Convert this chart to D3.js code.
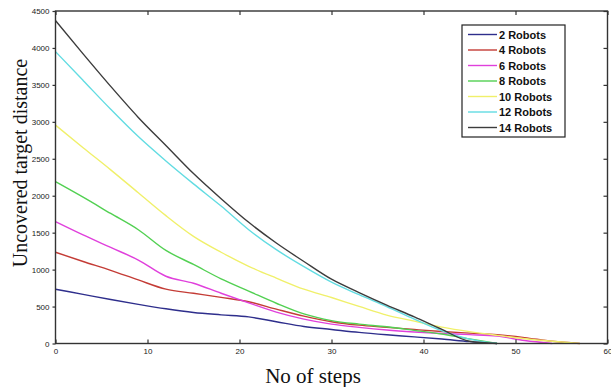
<!DOCTYPE html>
<html>
<head>
<meta charset="UTF-8">
<title>Uncovered target distance</title>
<script src="https://d3js.org/d3.v7.min.js"></script>
<style>
  body { margin: 0; background: #fff; }
  svg { display: block; }
</style>
</head>
<body>
<svg id="chart" width="611" height="387"></svg>
<script>
// steps sampled every 3, null = line already ended
const steps = [0, 3, 6, 9, 12, 15, 18, 21, 24, 27, 30, 33, 36, 39, 42, 45, 48, 51, 54, 57];

const robots2  = [735, 665, 595, 530, 470, 420, 388, 360, 295, 230, 190, 150, 118, 90, 60, 25, 0, null, null, null];
const robots4  = [1235, 1110, 990, 860, 735, 680, 625, 565, 465, 370, 295, 248, 220, 190, 162, 140, 120, 80, 30, 0];
const robots6  = [1650, 1470, 1300, 1130, 910, 815, 680, 550, 425, 330, 262, 218, 182, 156, 136, 120, 100, 40, 0, null];
const robots8  = [2190, 1980, 1760, 1540, 1260, 1070, 875, 710, 545, 400, 310, 262, 226, 178, 128, 62, 0, null, null, null];
const robots10 = [2955, 2650, 2350, 2040, 1730, 1450, 1235, 1045, 885, 735, 622, 502, 385, 302, 222, 160, 110, 65, 30, 0];
const robots12 = [3950, 3560, 3170, 2800, 2470, 2160, 1860, 1540, 1270, 1040, 830, 660, 500, 330, 170, 60, 0, null, null, null];
const robots14 = [4370, 3920, 3480, 3060, 2680, 2300, 1960, 1640, 1360, 1110, 870, 690, 520, 360, 190, 30, 0, null, null, null];

const seriesNames = ["2 Robots", "4 Robots", "6 Robots", "8 Robots", "10 Robots", "12 Robots", "14 Robots"];
const seriesValues = [robots2, robots4, robots6, robots8, robots10, robots12, robots14];
const seriesColors = ["#2e2e8c", "#c43c36", "#e040dc", "#52d052", "#f0f06a", "#62dce2", "#3c3c3c"];

const xTicks = [0, 10, 20, 30, 40, 50, 60];
const yTicks = [0, 500, 1000, 1500, 2000, 2500, 3000, 3500, 4000, 4500];

const svg = d3.select("#chart");
const plotLeft = 55.5, plotRight = 607.5, plotTop = 11, plotBottom = 343.5;

const x = d3.scaleLinear().domain([0, 60]).range([plotLeft, plotRight]);
const y = d3.scaleLinear().domain([0, 4500]).range([plotBottom, plotTop]);

// lines
const line = d3.line()
  .defined(d => d[1] != null)
  .x(d => x(d[0]))
  .y(d => y(d[1]))
  .curve(d3.curveMonotoneX);

seriesValues.forEach((vals, i) => {
  svg.append("path")
    .datum(steps.map((s, j) => [s, vals[j]]))
    .attr("fill", "none")
    .attr("stroke", seriesColors[i])
    .attr("stroke-width", 1.4)
    .attr("d", line);
});

// axes box
const axisColor = "#333";
svg.append("rect")
  .attr("x", plotLeft).attr("y", plotTop)
  .attr("width", plotRight - plotLeft).attr("height", plotBottom - plotTop)
  .attr("fill", "none").attr("stroke", axisColor).attr("stroke-width", 1.4);

const fmt = d3.format("d");
const xAxis = svg.append("g").attr("transform", `translate(0,${plotBottom})`)
  .call(d3.axisBottom(x).tickValues(xTicks).tickFormat(fmt).tickSizeInner(-4).tickSizeOuter(0).tickPadding(5));
const xTop = svg.append("g").attr("transform", `translate(0,${plotTop})`)
  .call(d3.axisTop(x).tickValues(xTicks).tickSizeInner(-4).tickSizeOuter(0).tickFormat(""));
const yAxis = svg.append("g").attr("transform", `translate(${plotLeft},0)`)
  .call(d3.axisLeft(y).tickValues(yTicks).tickFormat(fmt).tickSizeInner(3).tickSizeOuter(0).tickPadding(3));
const yRight = svg.append("g").attr("transform", `translate(${plotRight},0)`)
  .call(d3.axisRight(y).tickValues(yTicks).tickSizeInner(-4).tickSizeOuter(0).tickFormat(""));

[xAxis, xTop, yAxis, yRight].forEach(a => {
  a.select(".domain").remove();
  a.selectAll(".tick line").attr("stroke", axisColor).attr("stroke-width", 1.2);
  a.selectAll(".tick text")
    .attr("font-family", "Arial, 'Liberation Sans', sans-serif")
    .attr("font-size", "8px")
    .attr("fill", "#222");
});

// axis titles
svg.append("text")
  .attr("x", 313).attr("y", 383)
  .attr("text-anchor", "middle")
  .attr("font-family", "'Times New Roman', 'Liberation Serif', serif")
  .attr("font-size", "21px")
  .attr("fill", "#111")
  .text("No of steps");

svg.append("text")
  .attr("transform", "translate(27,163) rotate(-90)")
  .attr("text-anchor", "middle")
  .attr("font-family", "'Times New Roman', 'Liberation Serif', serif")
  .attr("font-size", "20px")
  .attr("fill", "#111")
  .text("Uncovered target distance");

// legend
const legend = svg.append("g");
legend.append("rect")
  .attr("x", 462).attr("y", 25).attr("width", 103).attr("height", 112)
  .attr("fill", "#fff").attr("stroke", "#222").attr("stroke-width", 1.2);

seriesNames.forEach((name, i) => {
  const ly = 34.5 + i * 15.5;
  legend.append("line")
    .attr("x1", 468).attr("x2", 497)
    .attr("y1", ly).attr("y2", ly)
    .attr("stroke", seriesColors[i]).attr("stroke-width", 1.4);
  legend.append("text")
    .attr("x", 499).attr("y", ly + 4)
    .attr("font-family", "Arial, 'Liberation Sans', sans-serif")
    .attr("font-size", "11px")
    .attr("font-weight", "bold")
    .attr("fill", "#111")
    .text(name);
});
</script>
</body>
</html>
